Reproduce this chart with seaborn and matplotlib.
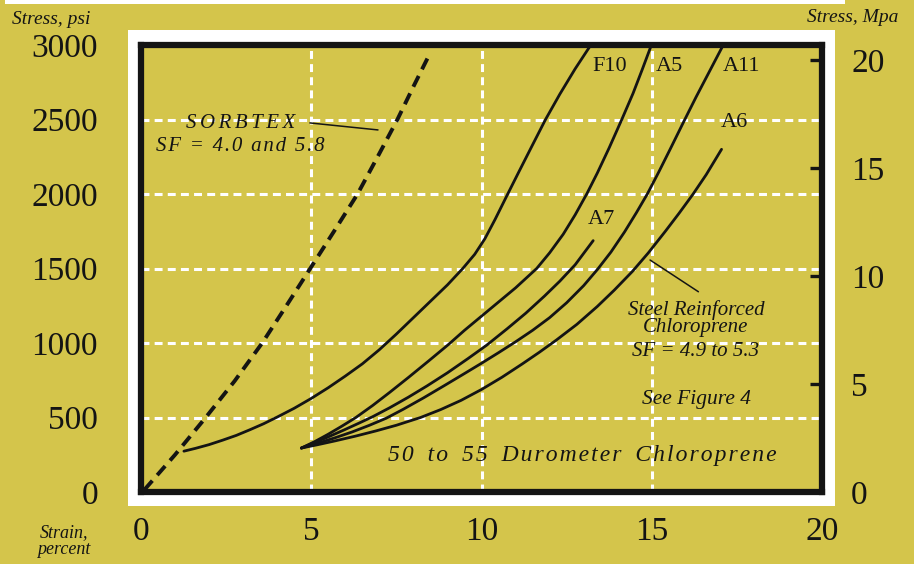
import matplotlib
matplotlib.use("Agg")
import matplotlib.pyplot as plt
from matplotlib.patches import Rectangle
import seaborn as sns

# ---- data: compressive strain (percent) vs. stress (psi) ----
sorbtex_strain = [0.1, 1.0, 1.9, 2.75, 3.56, 4.27, 4.97, 5.67, 6.36, 6.95, 7.53, 8.02, 8.5]
sorbtex_stress = [15, 250, 500, 745, 1000, 1250, 1500, 1750, 2000, 2250, 2500, 2730, 2950]

f10_strain = [1.26, 1.6, 2.0, 2.4, 2.8, 3.2, 3.6, 4.0, 4.5, 5.0, 5.5, 6.0, 6.5, 7.0,
              7.5, 8.0, 8.5, 9.0, 9.45, 9.8, 10.1, 10.4, 10.77, 11.1, 11.5, 11.88,
              12.3, 12.75, 13.21]
f10_stress = [274, 293, 318, 348, 380, 418, 458, 503, 562, 628, 700, 778, 860, 955,
              1060, 1170, 1280, 1390, 1500, 1595, 1700, 1830, 2000, 2150, 2330, 2500,
              2670, 2840, 3000]

a5_strain = [4.71, 5.1, 5.5, 5.9, 6.31, 6.8, 7.3, 7.85, 8.45, 9.03, 9.5, 10.0, 10.5,
             11.0, 11.62, 12.0, 12.4, 12.75, 13.09, 13.4, 13.75, 14.12, 14.45, 14.72, 14.99]
a5_stress = [295, 338, 388, 442, 500, 580, 668, 768, 880, 990, 1085, 1180, 1275,
             1370, 1500, 1605, 1730, 1860, 2000, 2140, 2310, 2500, 2675, 2835, 3000]

a7_strain = [4.71, 5.1, 5.5, 5.95, 6.4, 6.8, 7.3, 7.85, 8.4, 9.0, 9.6, 10.15, 10.75,
             11.3, 11.85, 12.3, 12.75, 13.28]
a7_stress = [295, 332, 370, 415, 462, 505, 565, 636, 712, 800, 895, 985, 1095,
             1200, 1315, 1415, 1525, 1687]

a11_strain = [4.71, 5.2, 5.7, 6.2, 6.7, 7.2, 7.7, 8.3, 8.9, 9.5, 10.0, 10.5, 11.0,
              11.5, 12.0, 12.5, 13.0, 13.41, 13.8, 14.2, 14.55, 14.87, 15.2, 15.55,
              15.96, 16.3, 16.7, 17.1]
a11_stress = [295, 328, 364, 403, 447, 495, 555, 632, 713, 795, 864, 935, 1008,
              1085, 1170, 1270, 1385, 1495, 1610, 1745, 1875, 2000, 2145, 2305,
              2495, 2650, 2825, 3000]

a6_strain = [4.71, 5.2, 5.7, 6.3, 6.9, 7.5, 8.21, 8.8, 9.4, 10.0, 10.6, 11.2, 11.7,
             12.2, 12.8, 13.4, 13.9, 14.43, 14.9, 15.4, 15.8, 16.2, 16.6, 17.05]
a6_stress = [295, 318, 343, 375, 410, 448, 500, 553, 615, 688, 770, 860, 938,
             1020, 1125, 1245, 1355, 1480, 1605, 1750, 1870, 1995, 2130, 2300]

x_ticks = [0, 5, 10, 15, 20]
psi_ticks = [0, 500, 1000, 1500, 2000, 2500, 3000]
mpa_ticks = [0, 5, 10, 15, 20]
PSI_PER_MPA = 145.038

BG = "#D4C54B"
INK = "#141414"

sns.set_theme(style="white")
plt.rcParams["font.family"] = ["Liberation Serif", "DejaVu Serif"]


def tracked(text, n=1, word_pad=1):
    """Letter-space an italic caption with hair spaces, widening word gaps too."""
    gap = "\u200a" * n
    pad = "\u200a" * word_pad
    return (pad + " " + pad).join(gap.join(word) for word in text.split(" "))


W, H = 914, 564
fig = plt.figure(figsize=(W / 100, H / 100), dpi=100, facecolor=BG)

# white mat around the plotting frame, and the light strip along the top edge
fig.patches.append(Rectangle((128 / W, 1 - 506 / H), (835 - 128) / W, (506 - 30) / H,
                             transform=fig.transFigure, facecolor="white",
                             edgecolor="none", zorder=-1))
fig.patches.append(Rectangle((5 / W, 1 - 4 / H), 840 / W, 4 / H,
                             transform=fig.transFigure, facecolor="white",
                             edgecolor="none", zorder=-1))

ax = fig.add_axes([141 / W, 1 - 492 / H, (822 - 141) / W, (492 - 45) / H])
ax.set_facecolor(BG)

curve_kw = dict(color=INK, linewidth=2.0, estimator=None, ax=ax)
sns.lineplot(x=sorbtex_strain, y=sorbtex_stress, ax=ax, color=INK, linewidth=2.8,
             estimator=None, linestyle=(0, (3.1, 1.9)))
sns.lineplot(x=f10_strain, y=f10_stress, **curve_kw)
sns.lineplot(x=a5_strain, y=a5_stress, **curve_kw)
sns.lineplot(x=a7_strain, y=a7_stress, **curve_kw)
sns.lineplot(x=a11_strain, y=a11_stress, **curve_kw)
sns.lineplot(x=a6_strain, y=a6_stress, **curve_kw)

ax.set_xlim(0, 20)
ax.set_ylim(0, 3000)
ax.set_xticks(x_ticks)
ax.set_yticks(psi_ticks)
ax.grid(True, color="white", linewidth=2.2, linestyle=(0, (2.6, 1.7)))
ax.set_axisbelow(True)
ax.tick_params(axis="both", length=0, labelsize=24, colors=INK)
ax.tick_params(axis="x", pad=18)
ax.tick_params(axis="y", pad=31)
for s in ax.spines.values():
    s.set_visible(True)
    s.set_color(INK)
    s.set_linewidth(4.5)

ax.set_xlabel("Strain,\npercent", fontsize=13, style="italic", color=INK,
              linespacing=0.95, ha="center", va="center")
ax.xaxis.set_label_coords(-0.113, -0.11)
ax.set_ylabel("Stress, psi", fontsize=14, style="italic", color=INK,
              rotation=0, ha="left", va="center")
ax.yaxis.set_label_coords(-0.1894, 1.056)

# metric scale on the right
ax2 = ax.twinx()
ax2.set_ylim(0, 3000 / PSI_PER_MPA)
ax2.set_yticks(mpa_ticks)
ax2.grid(False)
ax2.tick_params(axis="y", direction="in", length=8.5, width=2.4, color=INK,
                labelsize=24, labelcolor=INK, pad=21)
for s in ax2.spines.values():
    s.set_visible(False)
ax2.set_ylabel("Stress, Mpa", fontsize=14, style="italic", color=INK,
               rotation=0, ha="right", va="center")
ax2.yaxis.set_label_coords(1.1116, 1.0626)

# curve labels
lab_kw = dict(fontsize=16, color=INK, ha="center", va="center")
ax.text(13.77, 2859, "F10", **lab_kw)
ax.text(15.51, 2859, "A5", **lab_kw)
ax.text(17.65, 2859, "A11", **lab_kw)
ax.text(17.42, 2477, "A6", **lab_kw)
ax.text(13.51, 1826, "A7", **lab_kw)

# captions
cap_kw = dict(color=INK, ha="center", va="center", style="italic")
ax.text(2.94, 2470, tracked("SORBTEX", 2), fontsize=15, **cap_kw)
ax.text(2.91, 2322, tracked("SF = 4.0 and 5.8", 1, 1), fontsize=15, **cap_kw)
ax.plot([4.96, 6.96], [2477, 2430], color=INK, linewidth=1.1)

ax.plot([14.95, 16.37], [1557, 1344], color=INK, linewidth=1.1)
ax.text(16.3, 1221, "Steel Reinforced", fontsize=15, **cap_kw)
ax.text(16.3, 1101, "Chloroprene", fontsize=15, **cap_kw)
ax.text(16.3, 940, "SF = 4.9 to 5.3", fontsize=15, **cap_kw)
ax.text(16.3, 624, "See Figure 4", fontsize=15.5, **cap_kw)
ax.text(12.95, 248, tracked("50 to 55 Durometer Chloroprene", 1, 2), fontsize=17, **cap_kw)

fig.savefig("out.png", dpi=100, facecolor=BG)
